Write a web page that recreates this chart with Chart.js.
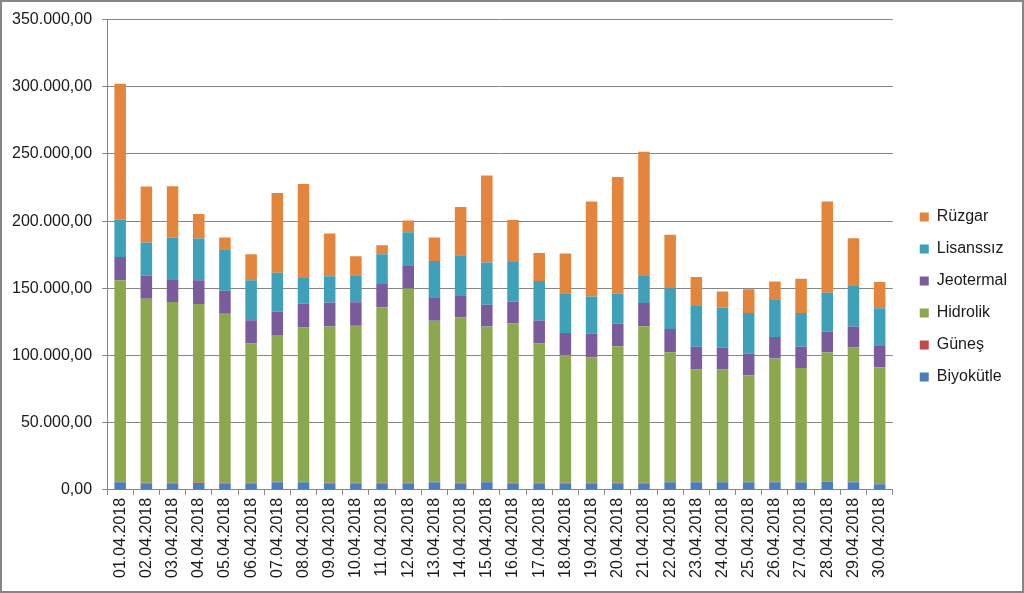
<!DOCTYPE html>
<html>
<head>
<meta charset="utf-8">
<script src="https://cdn.jsdelivr.net/npm/chart.js@4/dist/chart.umd.min.js"></script>
<style>
    html, body { margin: 0; padding: 0; background: #fff; }
    #wrap { width: 1024px; height: 593px; }
</style>
</head>
<body>
<div id="wrap"><canvas id="chart" width="1024" height="593"></canvas></div>
<script>
// Daily production by source, April 2018 (MWh)
const days = [
    '01.04.2018', '02.04.2018', '03.04.2018', '04.04.2018', '05.04.2018',
    '06.04.2018', '07.04.2018', '08.04.2018', '09.04.2018', '10.04.2018',
    '11.04.2018', '12.04.2018', '13.04.2018', '14.04.2018', '15.04.2018',
    '16.04.2018', '17.04.2018', '18.04.2018', '19.04.2018', '20.04.2018',
    '21.04.2018', '22.04.2018', '23.04.2018', '24.04.2018', '25.04.2018',
    '26.04.2018', '27.04.2018', '28.04.2018', '29.04.2018', '30.04.2018'
];
const biyokutle = [5700, 5000, 5000, 5200, 5000, 5000, 5700, 5700, 5000, 5000,
    5000, 5000, 5700, 5000, 5700, 5000, 5000, 5000, 5000, 5000,
    5000, 5700, 5700, 5700, 5700, 5700, 5700, 6000, 5700, 4200];
const gunes = [300, 250, 300, 350, 300, 250, 300, 300, 350, 300,
    300, 350, 300, 300, 250, 300, 300, 350, 300, 300,
    350, 300, 300, 250, 300, 350, 300, 300, 300, 250];
const hidrolik = [150000, 137000, 134500, 132800, 125800, 103700, 109200, 114900, 116200, 116800,
    130500, 144600, 119900, 123100, 115600, 118600, 103700, 94800, 93500, 101700,
    116500, 96500, 83600, 83600, 79300, 91700, 84800, 95900, 100000, 86800];
const jeotermal = [17400, 17200, 16900, 17700, 17200, 17400, 17600, 17900, 18000, 17500,
    17400, 17200, 17400, 16400, 16200, 16400, 17100, 16700, 17600, 16900,
    17200, 17200, 16900, 16400, 16200, 16100, 15700, 15500, 15600, 16400];
const lisanssiz = [27600, 24600, 31100, 31100, 30800, 29600, 28900, 18900, 19400, 20100,
    22200, 24600, 27100, 29800, 31400, 29400, 29400, 29600, 27600, 22100,
    20100, 30300, 30300, 29800, 30100, 27400, 25100, 29100, 30100, 27600];
const ruzgar = [101200, 41800, 38100, 18100, 8700, 19400, 59200, 69900, 31800, 14200,
    6700, 8700, 17400, 35900, 64900, 31100, 20900, 29400, 70700, 86800,
    92500, 39800, 21700, 12000, 17700, 13900, 25600, 67900, 35600, 19400];
const yTicks = [0, 50000, 100000, 150000, 200000, 250000, 300000, 350000];

const seriesColors = {
    biyokutle: '#4a7ebb',
    gunes: '#be4b48',
    hidrolik: '#8ba84e',
    jeotermal: '#7a5b9b',
    lisanssiz: '#3fa0ba',
    ruzgar: '#e3853c'
};

// 350000 -> "350.000,00"
function trNumber(v) {
    const whole = Math.round(v).toString().replace(/\B(?=(\d{3})+(?!\d))/g, '.');
    return whole + ',00';
}

// draw the grey frame round the whole picture
const framePlugin = {
    id: 'frame',
    afterDraw(chart) {
        const ctx = chart.ctx;
        ctx.save();
        ctx.strokeStyle = '#868686';
        ctx.lineWidth = 2;
        ctx.strokeRect(1, 1, chart.width - 2, chart.height - 2);
        ctx.restore();
    }
};

// push legend a bit to the right of the plot, like the original
const legendShift = {
    id: 'legendShift',
    afterLayout(chart) {
        const lg = chart.legend;
        if (lg) {
            lg.left += 11;
            lg.right += 11;
        }
    }
};

const ctx = document.getElementById('chart').getContext('2d');
new Chart(ctx, {
    type: 'bar',
    data: {
        labels: days,
        datasets: [
            { label: 'Biyokütle', data: biyokutle, backgroundColor: seriesColors.biyokutle },
            { label: 'Güneş', data: gunes, backgroundColor: seriesColors.gunes },
            { label: 'Hidrolik', data: hidrolik, backgroundColor: seriesColors.hidrolik },
            { label: 'Jeotermal', data: jeotermal, backgroundColor: seriesColors.jeotermal },
            { label: 'Lisanssız', data: lisanssiz, backgroundColor: seriesColors.lisanssiz },
            { label: 'Rüzgar', data: ruzgar, backgroundColor: seriesColors.ruzgar }
        ]
    },
    options: {
        responsive: false,
        animation: false,
        devicePixelRatio: 1,
        layout: {
            padding: { left: 2, right: 18, top: 13, bottom: 12 }
        },
        datasets: {
            bar: {
                barPercentage: 0.44,
                categoryPercentage: 1,
                borderWidth: 0
            }
        },
        plugins: {
            legend: {
                position: 'right',
                reverse: true,
                labels: {
                    boxWidth: 9,
                    boxHeight: 9,
                    padding: 16,
                    color: '#1a1a1a',
                    font: { family: 'Liberation Sans', size: 16 }
                }
            },
            tooltip: { enabled: false }
        },
        scales: {
            x: {
                stacked: true,
                grid: {
                    display: true,
                    drawOnChartArea: false,
                    drawTicks: true,
                    tickLength: 5,
                    color: '#868686'
                },
                border: { color: '#868686' },
                ticks: {
                    minRotation: 90,
                    maxRotation: 90,
                    autoSkip: false,
                    padding: 3,
                    color: '#1a1a1a',
                    font: { family: 'Liberation Sans', size: 16 }
                }
            },
            y: {
                stacked: true,
                min: 0,
                max: 350000,
                afterBuildTicks: (scale) => {
                    scale.ticks = yTicks.map(v => ({ value: v }));
                },
                grid: {
                    color: '#868686',
                    tickLength: 5
                },
                border: { color: '#868686' },
                ticks: {
                    padding: 10,
                    color: '#1a1a1a',
                    font: { family: 'Liberation Sans', size: 16 },
                    callback: (v) => trNumber(v)
                }
            }
        }
    },
    plugins: [framePlugin, legendShift]
});
</script>
</body>
</html>
